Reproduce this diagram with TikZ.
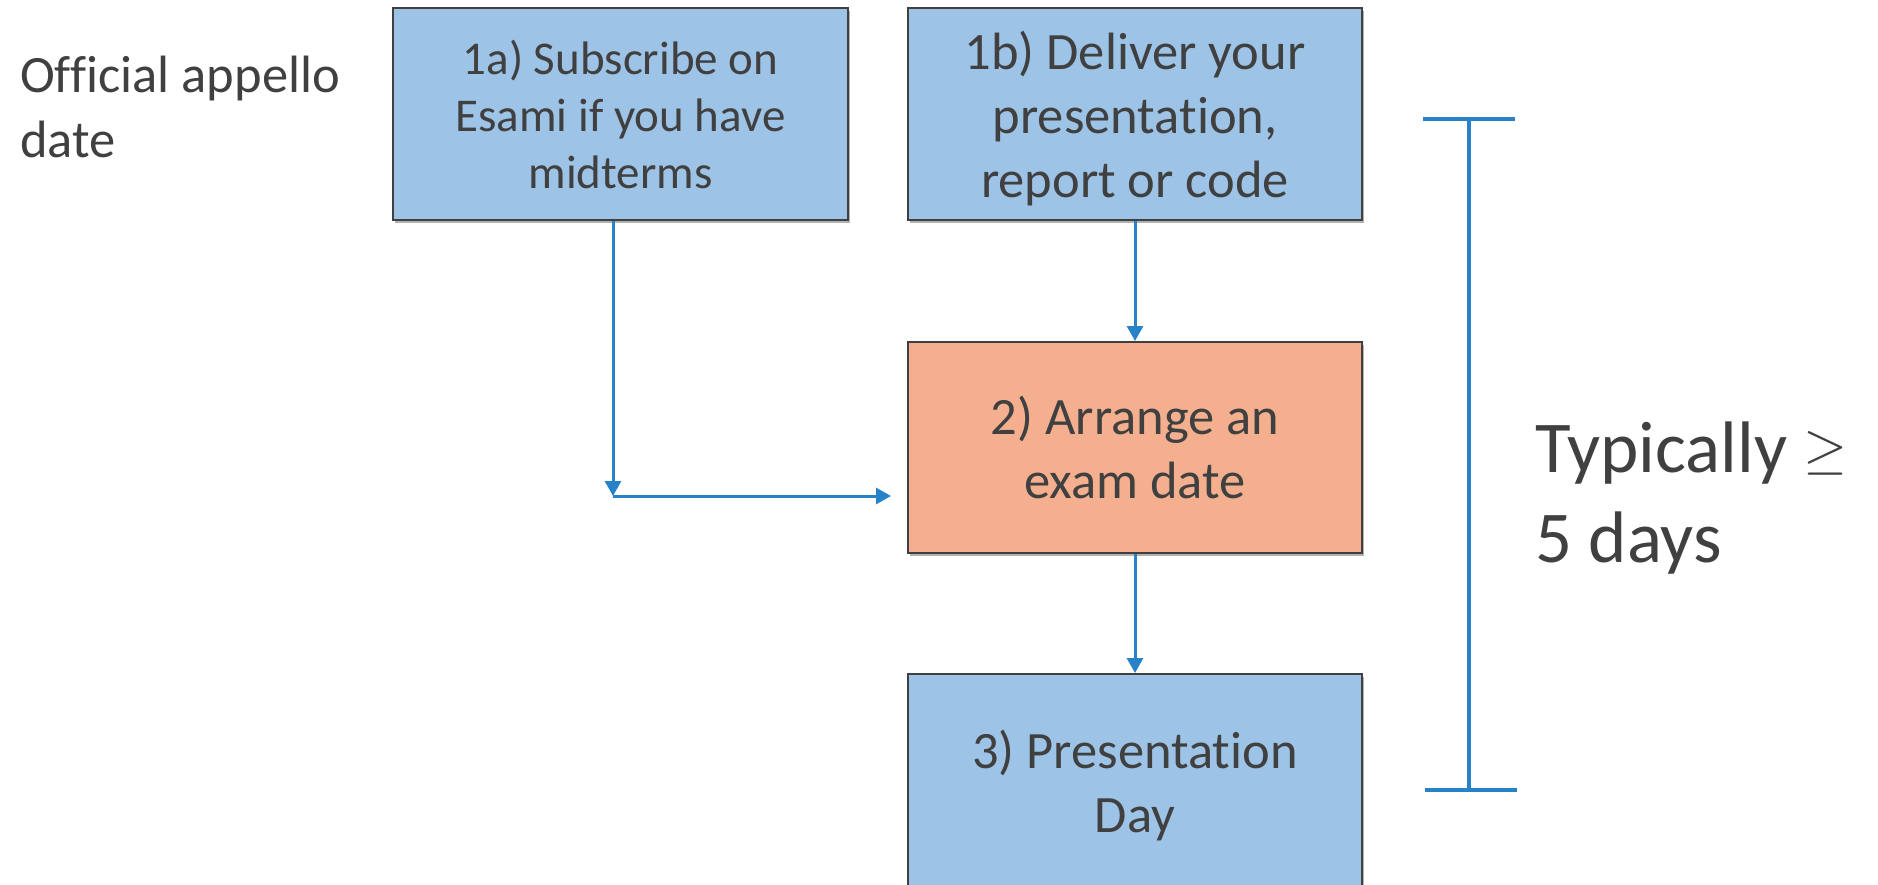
\documentclass[tikz,border=0pt]{standalone}
\usepackage{fontspec}
\setmainfont[RawFeature={-liga;-clig}]{Carlito}
\usetikzlibrary{arrows.meta,shadows,calc}
\definecolor{txt}{HTML}{404040}
\definecolor{boxblue}{HTML}{9DC3E6}
\definecolor{boxorange}{HTML}{F4AF8F}
\definecolor{linkblue}{RGB}{40,130,200}
\begin{document}
\begin{tikzpicture}[x=1pt,y=-1pt,
  stepbox/.style={draw=txt, line width=2pt, text=txt, align=center, inner sep=0pt,
    minimum width=454pt, minimum height=212pt,
    drop shadow={shadow xshift=2pt, shadow yshift=-3pt, opacity=0.3, fill=black},
    font=\fontsize{52.5}{64}\selectfont},
  link/.style={draw=linkblue, line width=3pt, -{Triangle[length=15pt,width=16pt]}},
  bar/.style={draw=linkblue, line width=3.5pt},
  plain/.style={text=txt, align=left, inner sep=0pt, anchor=west}
]
\clip (0,0) rectangle (1878,884);
\fill[white] (0,0) rectangle (1878,884);

\node[stepbox, fill=boxblue, minimum width=455pt, font=\fontsize{47}{57}\selectfont] (s1a) at (620.5,114)
  {1a) Subscribe on\\Esami if you have\\midterms};
\node[stepbox, fill=boxblue, text depth=0pt] (s1b) at (1135,114)
  {1b) Deliver your\\presentation,\\report or code};
\node[stepbox, fill=boxorange, minimum height=211pt] (s2) at (1135,447.5)
  {2) Arrange an\\exam date};
\node[stepbox, fill=boxblue, minimum height=223pt] (s3) at (1135,785.5)
  {3) Presentation\\Day};

\node[plain, font=\fontsize{52.5}{65}\selectfont] (off) at (20,107)
  {Official appello\\date};
\node[plain, font=\fontsize{73}{90}\selectfont] (typ) at (1535,498)
  {Typically \raisebox{5pt}{\resizebox{44pt}{!}{$\geq$}}\\5 days};

\coordinate (corner) at (613,496);
\draw[link] (corner |- s1a.south) -- (corner);
\draw[link, shorten >=16pt] (corner) -- (corner -| s2.west);
\draw[link] (s1b.south) -- (s2.north);
\draw[link] (s2.south) -- (s3.north);

\coordinate (btop) at (1469,119);
\coordinate (bbot) at (1469,790);
\draw[bar] (btop) -- (bbot);
\draw[bar] ($(btop)+(-46,0)$) -- ($(btop)+(46,0)$);
\draw[bar] ($(bbot)+(-44,0)$) -- ($(bbot)+(48,0)$);
\end{tikzpicture}
\end{document}
